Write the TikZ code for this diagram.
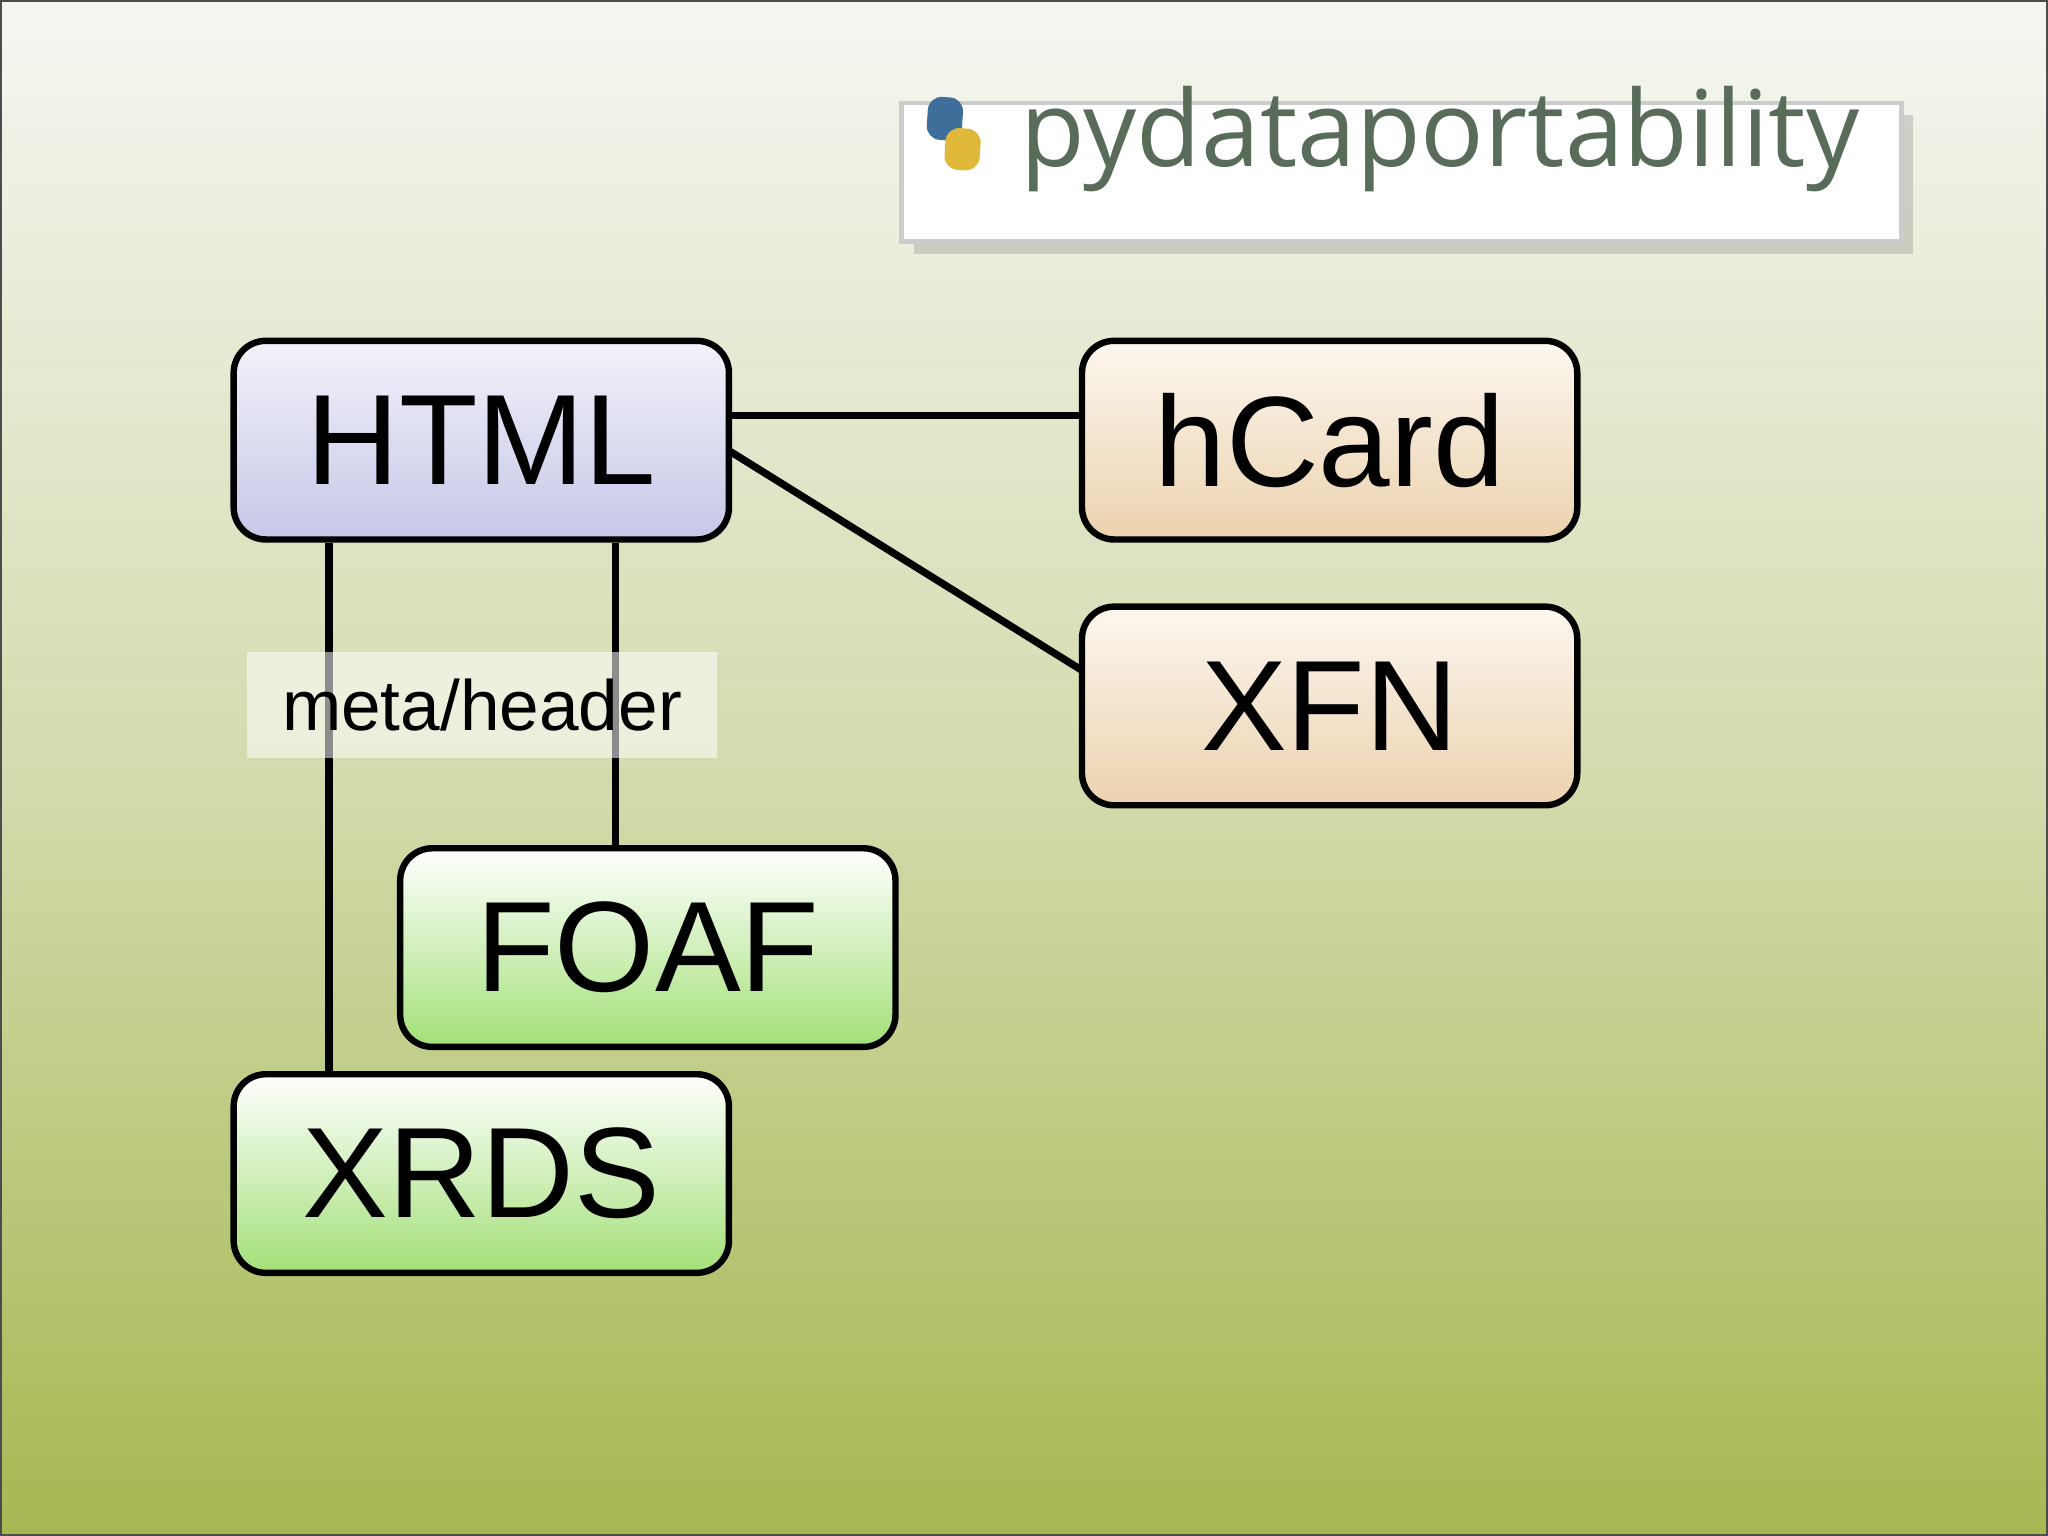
\documentclass[tikz,border=0pt]{standalone}
\usepackage{fontspec}
\usetikzlibrary{shadows}
\setmainfont{Liberation Sans}
\newfontfamily\lbl{Open Sans}
\definecolor{bgtop}{HTML}{F6F6F2}
\definecolor{bgmid}{HTML}{D2DBAC}
\definecolor{bgbot}{HTML}{A5B851}
\definecolor{lavtop}{HTML}{F2F2FA}
\definecolor{lavbot}{HTML}{C6C6E8}
\definecolor{oratop}{HTML}{FCF7F0}
\definecolor{orabot}{HTML}{ECD2AE}
\definecolor{grnbot}{HTML}{A3E078}
\definecolor{pyblue}{HTML}{3E6E9A}
\definecolor{pyyel}{HTML}{E0B93A}
\begin{document}
\begin{tikzpicture}[x=0.01cm,y=-0.01cm,
  box/.style={draw=black,line width=1.4pt,rounded corners=7pt,minimum width=3.79cm,minimum height=1.52cm,font=\fontsize{28}{28}\selectfont,inner sep=0pt},
  lav/.style={box,top color=lavtop,bottom color=lavbot},
  ora/.style={box,top color=oratop,bottom color=orabot},
  grn/.style={box,top color=white,bottom color=grnbot},
  conn/.style={line width=1.6pt}]
\useasboundingbox (0,0) rectangle (1568,1176);
\shade[top color=bgtop,bottom color=bgmid] (0,-1) rectangle (1568,601);
\shade[top color=bgmid,bottom color=bgbot] (0,600) rectangle (1568,1176);
\draw[gray!60!black,line width=0.8pt] (0,0) rectangle (1568,1176);
% logo
\begin{scope}[shift={(1073,132)},rotate=-3.7]
\node[draw=gray!40,fill=white,line width=1pt,minimum width=7.65cm,minimum height=1.06cm,drop shadow={opacity=0.3}] (logo) at (0,0) {};
\node[font=\lbl\fontsize{23}{23}\selectfont,text=black!75!green!30!gray,anchor=west] (ltext) at (-305,-6) {pydataportability};
\fill[pyblue,rounded corners=3pt] (-365,-35) rectangle (-338,-2);
\fill[pyyel,rounded corners=3pt] (-350,-12) rectangle (-323,20);
\end{scope}
\node[lav] (html) at (368.5,337) {HTML};
\node[ora] (hcard) at (1018,337) {hCard};
\node[ora] (xfn) at (1018,540.5) {XFN};
\node[grn] (foaf) at (496,725.5) {FOAF};
\node[grn] (xrds) at (368.5,898.5) {XRDS};
\coordinate (h1) at (558,318);
\coordinate (h2) at (558,345);
\coordinate (x1) at (828,513);
\draw[conn] (h1) -- (h1 -| hcard.west);
\draw[conn] (h2) -- (x1);
\draw[conn] (html.south -| 252,0) -- (xrds.north -| 252,0);
\draw[conn] (html.south -| 471,0) -- (foaf.north -| 471,0);
\node[fill=white,fill opacity=0.55,text opacity=1,minimum width=3.6cm,minimum height=0.81cm,font=\fontsize{15.5}{15.5}\selectfont,inner sep=0pt] (meta) at (369,539.5) {meta/header};
\end{tikzpicture}
\end{document}
